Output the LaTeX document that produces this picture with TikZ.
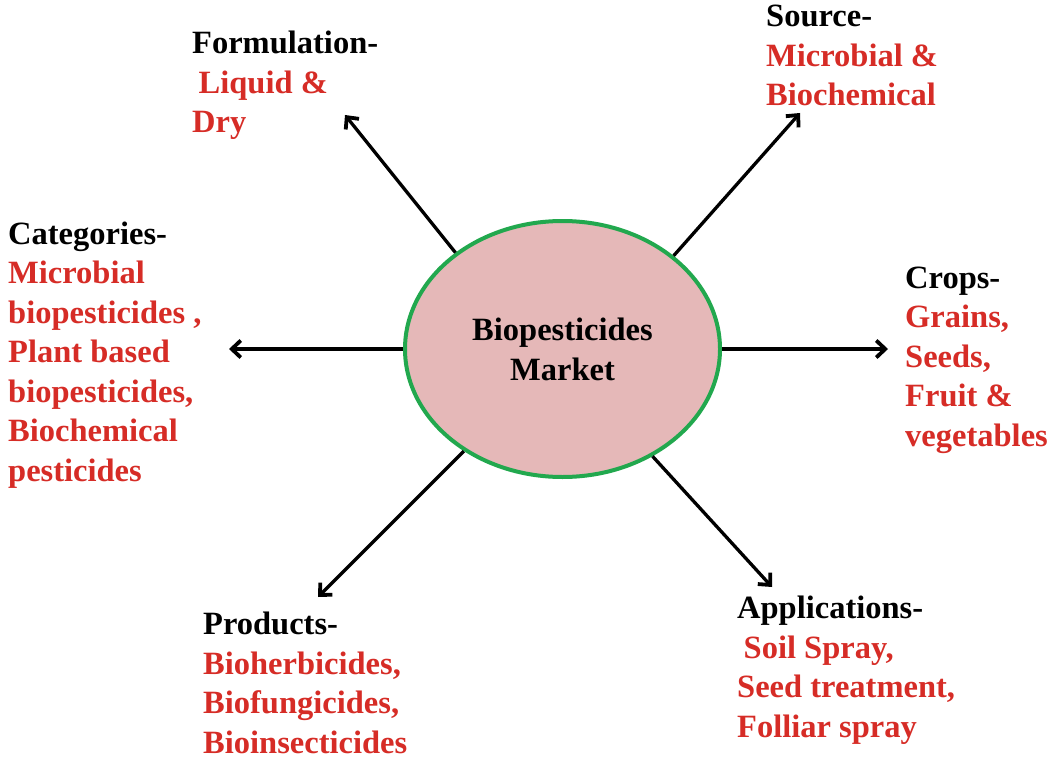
\documentclass[tikz,border=0pt]{standalone}
\usepackage{fontspec}
\setmainfont{Liberation Serif}
\usetikzlibrary{arrows.meta,shapes.geometric}
\definecolor{lblred}{RGB}{214,44,38}
\definecolor{ellfill}{RGB}{229,184,184}
\definecolor{ellline}{RGB}{34,168,78}
\tikzset{
  lbl/.style={inner sep=0pt, anchor=base west, align=left, font=\bfseries\fontsize{32.5}{39.5}\selectfont},
  conn/.style={line width=3.3pt, -{Straight Barb[length=9pt,width=17pt,line width=3.8pt]}},
}
\begin{document}
\begin{tikzpicture}[x=1pt,y=-1pt]
\useasboundingbox (0,0) rectangle (1051,762);
\node[ellipse, minimum width=315pt, minimum height=256pt, inner sep=0pt, fill=ellfill, draw=ellline, line width=4pt, align=center, font=\bfseries\fontsize{32.5}{40}\selectfont] (m) at (562.5,349) {Biopesticides\\Market};
\coordinate (tf) at (345,115);
\coordinate (ts) at (800,113);
\coordinate (tc) at (229,349);
\coordinate (tr) at (888,349);
\coordinate (tp) at (318,597);
\coordinate (ta) at (772,587);
\draw[conn] (m.138.9) -- (tf);
\draw[conn] (m.40.4) -- (ts);
\draw[conn] (m.west) -- (tc);
\draw[conn] (m.east) -- (tr);
\draw[conn] (m.226) -- (tp);
\draw[conn] (m.310.6) -- (ta);
\node[lbl] (lf) at (192,133) {Formulation-\\\textcolor{lblred}{\hspace*{0.2em}Liquid \&}\\\textcolor{lblred}{Dry}};
\node[lbl] (ls) at (766,106) {Source-\\\textcolor{lblred}{Microbial \&}\\\textcolor{lblred}{Biochemical}};
\node[lbl] (lc) at (8,481) {Categories-\\\textcolor{lblred}{Microbial}\\\textcolor{lblred}{biopesticides ,}\\\textcolor{lblred}{Plant based}\\\textcolor{lblred}{biopesticides,}\\\textcolor{lblred}{Biochemical}\\\textcolor{lblred}{pesticides}};
\node[lbl] (lr) at (905,446) {Crops-\\\textcolor{lblred}{Grains,}\\\textcolor{lblred}{Seeds,}\\\textcolor{lblred}{Fruit \&}\\\textcolor{lblred}{vegetables}};
\node[lbl] (lp) at (203,753) {Products-\\\textcolor{lblred}{Bioherbicides,}\\\textcolor{lblred}{Biofungicides,}\\\textcolor{lblred}{Bioinsecticides}};
\node[lbl] (la) at (737,737) {Applications-\\\textcolor{lblred}{\hspace*{0.2em}Soil Spray,}\\\textcolor{lblred}{Seed treatment,}\\\textcolor{lblred}{Folliar spray}};
\end{tikzpicture}
\end{document}
